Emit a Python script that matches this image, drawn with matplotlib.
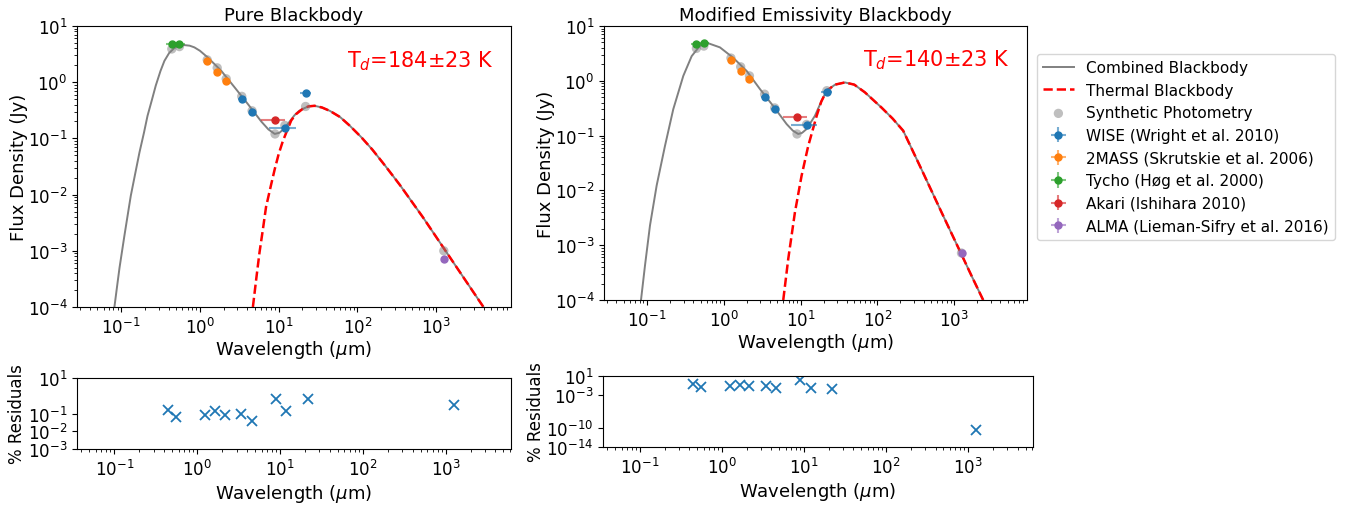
import numpy as np
import matplotlib
matplotlib.use('Agg')
import matplotlib.pyplot as plt

# ── Photometry (wavelength in um, flux in Jy) ────────────────────────────────
tycho_wl = [0.44, 0.55]
tycho_flux = [4.75, 4.8]
tycho_xerr = [0.07, 0.10]

tmass_wl = [1.24, 1.66, 2.16]
tmass_flux = [2.4, 1.5, 1.07]
tmass_xerr = [0.12, 0.15, 0.15]

wise_wl = [3.4, 4.6, 12.0, 22.0]
wise_flux = [0.50, 0.30, 0.155, 0.63]
wise_xerr = [0.33, 0.45, 4.5, 3.5]

akari_wl = [9.0]
akari_flux = [0.215]
akari_xerr = [3.1]

alma_wl = [1250.0]
alma_flux = [7.2e-4]
alma_xerr = [20.0]

# synthetic photometry from each model, same bands
synth_wl = [0.44, 0.55, 1.24, 1.66, 2.16, 3.4, 4.6, 9.0, 12.0, 22.0, 1250.0]
synth_pure = [3.9, 4.3, 2.5, 1.8, 1.15, 0.56, 0.31, 0.12, 0.17, 0.37, 1.0e-3]
synth_mod = [3.9, 4.3, 2.6, 1.8, 1.23, 0.57, 0.32, 0.107, 0.16, 0.66, 7.2e-4]

# residuals (%)
resid_pure = [0.164, 0.061, 0.082, 0.132, 0.082, 0.090, 0.039, 0.656, 0.132, 0.656, 0.301]
resid_mod = [0.18, 0.059, 0.081, 0.13, 0.081, 0.081, 0.026, 1.2, 0.036, 0.022, 3.1e-11]

# ── Model curves as log10(um), log10(Jy) ─────────────────────────────────────
pure_comb_lx = [-1.085, -1.05, -1.02, -0.958, -0.90, -0.877, -0.82, -0.767, -0.71, -0.665,
                -0.61, -0.56, -0.50, -0.45, -0.39, -0.323, -0.26, -0.196, -0.13, -0.07,
                0.00, 0.10, 0.27, 0.44, 0.61, 0.78, 0.87, 0.95, 1.01, 1.075, 1.14, 1.20,
                1.26, 1.33, 1.38, 1.456, 1.55, 1.65, 1.78, 1.90, 2.05, 2.19, 2.36, 2.54,
                2.83, 3.085, 3.34, 3.60]
pure_comb_ly = [-4.0, -3.62, -3.30, -2.73, -2.22, -2.02, -1.62, -1.25, -0.90, -0.60,
                -0.32, -0.06, 0.20, 0.38, 0.52, 0.61, 0.65, 0.66, 0.65, 0.62,
                0.56, 0.44, 0.205, -0.09, -0.39, -0.70, -0.84, -0.92, -0.90, -0.82, -0.70, -0.59,
                -0.51, -0.46, -0.43, -0.42, -0.45, -0.51, -0.62, -0.77, -0.98, -1.20, -1.50, -1.83,
                -2.40, -2.93, -3.46, -4.0]

pure_therm_lx = [0.673, 0.72, 0.757, 0.80, 0.84, 0.90, 0.95, 1.00, 1.053, 1.11, 1.16, 1.22,
                 1.30, 1.38, 1.456, 1.55, 1.65, 1.78, 1.90, 2.05, 2.19, 2.36, 2.54, 2.83,
                 3.085, 3.34, 3.60]
pure_therm_ly = [-4.0, -3.45, -3.03, -2.62, -2.22, -1.85, -1.55, -1.28, -1.05, -0.85, -0.68, -0.57,
                 -0.48, -0.43, -0.42, -0.45, -0.51, -0.62, -0.77, -0.98, -1.20, -1.50, -1.83, -2.40,
                 -2.93, -3.46, -4.0]

mod_comb_lx = [-1.078, -1.026, -0.961, -0.874, -0.766, -0.658, -0.527, -0.418, -0.31, -0.202,
               -0.05, 0.123, 0.298, 0.471, 0.644, 0.819, 0.90, 0.97, 1.02, 1.079, 1.187,
               1.27, 1.34, 1.45, 1.578, 1.70, 1.838, 2.056, 2.20, 2.337, 2.577, 2.837,
               3.097, 3.228, 3.379]
mod_comb_ly = [-4.0, -3.37, -2.64, -1.91, -1.19, -0.52, 0.09, 0.45, 0.64, 0.685,
               0.61, 0.42, 0.18, -0.15, -0.46, -0.79, -0.91, -0.97, -0.95, -0.88, -0.64,
               -0.38, -0.18, -0.07, -0.03, -0.07, -0.21, -0.49, -0.69, -0.91, -1.62, -2.40,
               -3.17, -3.56, -4.0]

mod_therm_lx = [0.775, 0.84, 0.927, 1.014, 1.10, 1.21, 1.27, 1.34, 1.45, 1.578, 1.70, 1.838,
                2.056, 2.20, 2.337, 2.577, 2.837, 3.097, 3.228, 3.379]
mod_therm_ly = [-4.0, -3.25, -2.40, -1.73, -1.19, -0.64, -0.38, -0.18, -0.07, -0.03, -0.07, -0.21,
                -0.49, -0.69, -0.91, -1.62, -2.40, -3.17, -3.56, -4.0]

temps = ["T$_d$=184±23 K", "T$_d$=140±23 K"]
titles = ["Pure Blackbody", "Modified Emissivity Blackbody"]

plt.rcParams['font.family'] = 'DejaVu Sans'
plt.rcParams['xtick.labelsize'] = 12
plt.rcParams['ytick.labelsize'] = 12

fig = plt.figure(figsize=(13.47, 5.06), dpi=100)
W, H = 1347, 506
axL = fig.add_axes([77 / W, 198 / H, 434 / W, 281 / H])
axR = fig.add_axes([604 / W, 205 / H, 423 / W, 274 / H])
rL = fig.add_axes([77 / W, 56 / H, 434 / W, 71 / H])
rR = fig.add_axes([603 / W, 58 / H, 430 / W, 71 / H])


def photometry(ax):
    sets = [(wise_wl, wise_flux, wise_xerr, 'C0', 'WISE (Wright et al. 2010)'),
            (tmass_wl, tmass_flux, tmass_xerr, 'C1', '2MASS (Skrutskie et al. 2006)'),
            (tycho_wl, tycho_flux, tycho_xerr, 'C2', 'Tycho (Høg et al. 2000)'),
            (akari_wl, akari_flux, akari_xerr, 'C3', 'Akari (Ishihara 2010)'),
            (alma_wl, alma_flux, alma_xerr, 'C4', 'ALMA (Lieman-Sifry et al. 2016)')]
    for wl, fl, xe, c, lab in sets:
        ye = [0.04 * f for f in fl]
        eb = ax.errorbar(wl, fl, xerr=xe, yerr=ye, fmt='o', color=c, ms=5,
                         elinewidth=1.5, label=lab, zorder=5)
        for b in eb.lines[2]:
            b.set_alpha(0.6)


for ax, clx, cly, tlx, tly, synth, td, title in [
        (axL, pure_comb_lx, pure_comb_ly, pure_therm_lx, pure_therm_ly, synth_pure, temps[0], titles[0]),
        (axR, mod_comb_lx, mod_comb_ly, mod_therm_lx, mod_therm_ly, synth_mod, temps[1], titles[1])]:
    ax.plot(10 ** np.array(clx), 10 ** np.array(cly), color='gray', lw=1.4,
            label='Combined Blackbody', zorder=2)
    ax.plot(10 ** np.array(tlx), 10 ** np.array(tly), color='red', ls='--', lw=1.8,
            label='Thermal Blackbody', zorder=3)
    ax.scatter(synth_wl, synth, s=45, color='gray', alpha=0.5,
               label='Synthetic Photometry', zorder=4, edgecolors='none')
    photometry(ax)
    ax.set_xscale('log')
    ax.set_yscale('log')
    ax.set_xlim(10 ** -1.56, 10 ** 3.95)
    ax.set_ylim(1e-4, 1e1)
    ax.set_xlabel('Wavelength ($\\mu$m)', fontsize=13, labelpad=1)
    ax.set_ylabel('Flux Density (Jy)', fontsize=13, labelpad=0)
    ax.set_title(title, fontsize=13, pad=4)
    ax.text(0.96, 0.88, td, transform=ax.transAxes, color='red', fontsize=15,
            ha='right', va='center')

for ax, res, yt in [(rL, resid_pure, [1e1, 1e-1, 1e-2, 1e-3]),
                    (rR, resid_mod, [1e1, 1e-3, 1e-10, 1e-14])]:
    ax.plot(synth_wl, res, 'x', color='C0', ms=7, mew=1.3)
    ax.set_xscale('log')
    ax.set_yscale('log')
    ax.set_xlim(10 ** -1.45, 10 ** 3.79)
    ax.set_ylim(yt[-1], yt[0])
    ax.set_yticks(yt)
    ax.minorticks_off()
    ax.xaxis.set_minor_locator(matplotlib.ticker.LogLocator(subs=np.arange(2, 10)))
    ax.xaxis.set_minor_formatter(matplotlib.ticker.NullFormatter())
    ax.set_xlabel('Wavelength ($\\mu$m)', fontsize=13, labelpad=2)
    ax.set_ylabel('% Residuals', fontsize=12, labelpad=1)

handles, labels = axR.get_legend_handles_labels()
fig.legend(handles, labels, loc='upper left', bbox_to_anchor=(1037 / W, 1 - 55 / H),
           borderaxespad=0, fontsize=11, frameon=True)

plt.savefig('out.png', dpi=100)
